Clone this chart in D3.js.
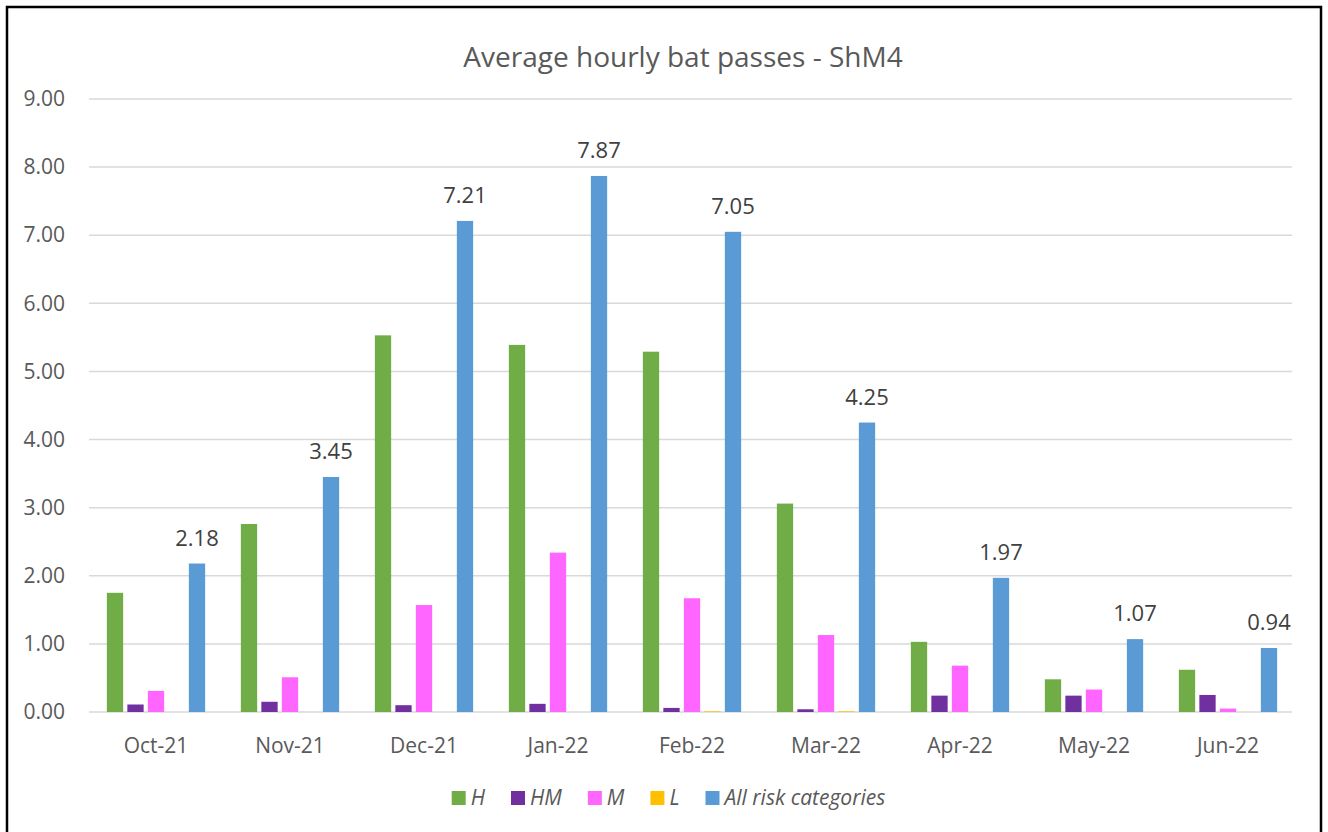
<!DOCTYPE html>
<html>
<head>
<meta charset="utf-8">
<script src="https://cdn.jsdelivr.net/npm/d3@7"></script>
<style>
  body { margin: 0; background: #fff; }
  svg { display: block; font-family: "Open Sans", sans-serif; }
</style>
</head>
<body>
<svg id="chart" width="1328" height="832"></svg>
<script>
// ===== DATA =====
const months = ["Oct-21", "Nov-21", "Dec-21", "Jan-22", "Feb-22", "Mar-22", "Apr-22", "May-22", "Jun-22"];
const seriesNames = ["H", "HM", "M", "L", "All risk categories"];
const seriesColors = ["#70AD47", "#7030A0", "#FF66FF", "#FFC000", "#5B9BD5"];

const hValues   = [1.75, 2.76, 5.53, 5.39, 5.29, 3.06, 1.03, 0.48, 0.62];
const hmValues  = [0.11, 0.15, 0.10, 0.12, 0.06, 0.04, 0.24, 0.24, 0.25];
const mValues   = [0.31, 0.51, 1.57, 2.34, 1.67, 1.13, 0.68, 0.33, 0.05];
const lValues   = [0.00, 0.00, 0.00, 0.00, 0.01, 0.01, 0.00, 0.00, 0.00];
const allValues = [2.18, 3.45, 7.21, 7.87, 7.05, 4.25, 1.97, 1.07, 0.94];
const yTicks = [0, 1, 2, 3, 4, 5, 6, 7, 8, 9];

const seriesValues = [hValues, hmValues, mValues, lValues, allValues];

// ===== SETUP =====
const svg = d3.select("#chart");
const textColor = "#595959";

// outer frame
svg.append("rect")
  .attr("x", 7).attr("y", 7)
  .attr("width", 1314).attr("height", 840)
  .attr("fill", "none")
  .attr("stroke", "#000")
  .attr("stroke-width", 2.5);

const plotLeft = 89, plotRight = 1295;

const x0 = d3.scaleBand().domain(months).range([plotLeft, plotRight]);
const inset = (x0.bandwidth() - 98.3) / 2;
const x1 = d3.scaleBand().domain(seriesNames)
  .range([inset, x0.bandwidth() - inset])
  .paddingInner(0.205);
const y = d3.scaleLinear().domain([0, 9]).range([712, 99]);

// title
svg.append("text")
  .attr("x", 683).attr("y", 67)
  .attr("text-anchor", "middle")
  .attr("font-size", "28px")
  .attr("fill", textColor)
  .text("Average hourly bat passes - ShM4");

// gridlines
svg.append("g")
  .selectAll("line")
  .data(yTicks)
  .join("line")
  .attr("x1", plotLeft).attr("x2", 1292)
  .attr("y1", d => y(d)).attr("y2", d => y(d))
  .attr("stroke", "#D9D9D9")
  .attr("stroke-width", 1.5);

// y axis labels
const yAxis = d3.axisLeft(y).tickValues(yTicks).tickFormat(d3.format(".2f")).tickSize(0).tickPadding(0);
svg.append("g")
  .attr("transform", "translate(65,0)")
  .call(yAxis)
  .call(g => g.select(".domain").remove())
  .call(g => g.selectAll("text")
    .attr("font-size", "21px")
    .attr("font-family", "Open Sans, sans-serif")
    .attr("fill", textColor));

// x axis labels
const xAxis = d3.axisBottom(x0).tickSize(0).tickPadding(0);
svg.append("g")
  .attr("transform", "translate(0,753)")
  .call(xAxis)
  .call(g => g.select(".domain").remove())
  .call(g => g.selectAll("text")
    .attr("dy", null)
    .attr("font-size", "21px")
    .attr("font-family", "Open Sans, sans-serif")
    .attr("fill", textColor));

// bars
const groups = svg.append("g")
  .selectAll("g")
  .data(months)
  .join("g")
  .attr("transform", d => `translate(${x0(d)},0)`);

groups.selectAll("rect")
  .data((m, i) => seriesNames.map((s, j) => ({ series: s, value: seriesValues[j][i], color: seriesColors[j] })))
  .join("rect")
  .attr("x", d => x1(d.series))
  .attr("width", x1.bandwidth())
  .attr("y", d => y(d.value))
  .attr("height", d => y(0) - y(d.value))
  .attr("fill", d => d.color);

// data labels on total
svg.append("g")
  .selectAll("text")
  .data(months)
  .join("text")
  .attr("x", (m) => x0(m) + x1("All risk categories") + x1.bandwidth() / 2)
  .attr("y", (m, i) => y(allValues[i]) - 18)
  .attr("text-anchor", "middle")
  .attr("font-size", "22px")
  .attr("fill", "#404040")
  .text((m, i) => d3.format(".2f")(allValues[i]));

// legend
const legend = svg.append("g");
let lx = 0;
seriesNames.forEach((name, i) => {
  const item = legend.append("g").attr("transform", `translate(${lx},0)`);
  item.append("rect")
    .attr("x", 0).attr("y", -7)
    .attr("width", 14).attr("height", 14)
    .attr("fill", seriesColors[i]);
  const t = item.append("text")
    .attr("x", 19).attr("y", 0)
    .attr("dy", "0.35em")
    .attr("font-size", "21px")
    .attr("font-style", "italic")
    .attr("fill", textColor)
    .text(name);
  lx += 19 + t.node().getComputedTextLength() + 26;
});
const legendWidth = lx - 26;
legend.attr("transform", `translate(${668.5 - legendWidth / 2},798)`);
</script>
</body>
</html>
